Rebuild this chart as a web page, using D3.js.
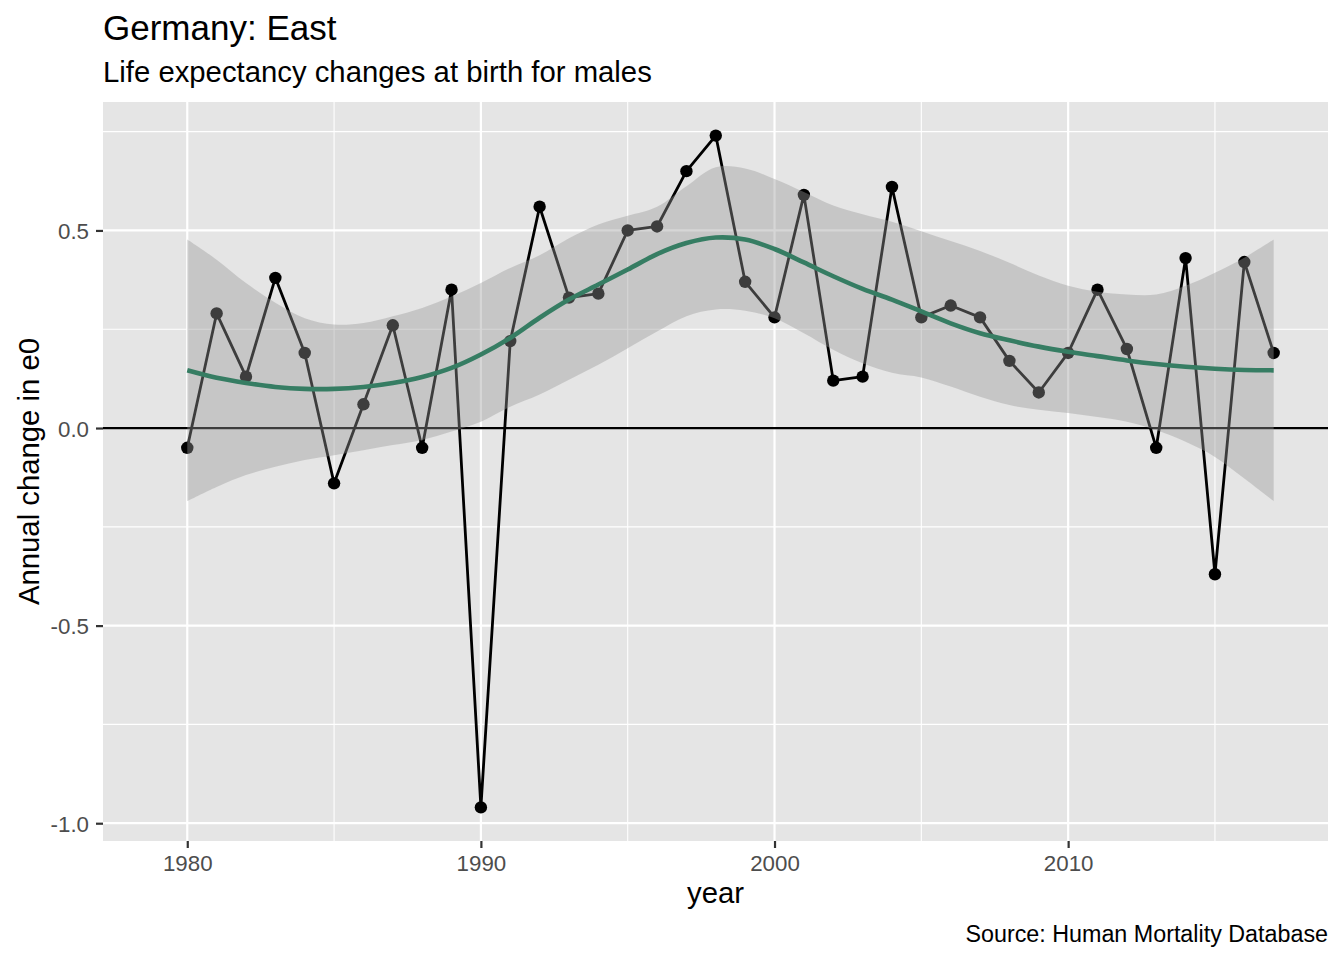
<!DOCTYPE html>
<html>
<head>
<meta charset="utf-8">
<script src="https://cdn.jsdelivr.net/npm/d3@7"></script>
<style>
  body { margin: 0; background: #fff; }
  svg { font-family: "Liberation Sans", Arial, sans-serif; }
</style>
</head>
<body>
<svg width="1344" height="960"></svg>
<script>
// annual change in e0, East Germany males
const years = d3.range(1980, 2018);
const changes = [-0.05, 0.29, 0.13, 0.38, 0.19, -0.14, 0.06, 0.26, -0.05, 0.35,
                 -0.96, 0.22, 0.56, 0.33, 0.34, 0.50, 0.51, 0.65, 0.74, 0.37,
                 0.28, 0.59, 0.12, 0.13, 0.61, 0.28, 0.31, 0.28, 0.17, 0.09,
                 0.19, 0.35, 0.20, -0.05, 0.43, -0.37, 0.42, 0.19];

// loess fit and its confidence band, read per year
const smoothFit = [0.146, 0.127, 0.114, 0.104, 0.099, 0.099, 0.104, 0.114, 0.129, 0.152,
                   0.186, 0.228, 0.279, 0.325, 0.363, 0.401, 0.440, 0.468, 0.482, 0.477,
                   0.453, 0.419, 0.384, 0.352, 0.325, 0.295, 0.265, 0.240, 0.222, 0.206,
                   0.193, 0.182, 0.171, 0.162, 0.155, 0.150, 0.147, 0.146];
const bandUpper = [0.477, 0.426, 0.367, 0.317, 0.278, 0.262, 0.266, 0.283, 0.304, 0.333,
                   0.367, 0.405, 0.437, 0.480, 0.515, 0.537, 0.560, 0.612, 0.660, 0.657,
                   0.630, 0.597, 0.563, 0.541, 0.522, 0.498, 0.473, 0.448, 0.418, 0.386,
                   0.360, 0.345, 0.338, 0.338, 0.360, 0.393, 0.431, 0.477];
const bandLower = [-0.185, -0.149, -0.119, -0.098, -0.081, -0.069, -0.056, -0.043, -0.030, -0.009,
                   0.016, 0.054, 0.085, 0.122, 0.160, 0.202, 0.244, 0.283, 0.300, 0.297,
                   0.278, 0.240, 0.198, 0.164, 0.140, 0.128, 0.105, 0.079, 0.058, 0.046,
                   0.038, 0.028, 0.016, -0.005, -0.035, -0.073, -0.128, -0.185];

const xTicks = [1980, 1990, 2000, 2010];
const xMinor = [1985, 1995, 2005, 2015];
const yTicks = [-1.0, -0.5, 0.0, 0.5];
const yMinor = [-0.75, -0.25, 0.25, 0.75];

const svg = d3.select("svg");
const panel = {left: 103, right: 1328, top: 102, bottom: 841};

const x = d3.scaleLinear().domain([1977.13, 2018.85]).range([panel.left, panel.right]);
const y = d3.scaleLinear().domain([-1.045, 0.825]).range([panel.bottom, panel.top]);

svg.append("rect")
	.attr("x", panel.left).attr("y", panel.top)
	.attr("width", panel.right - panel.left).attr("height", panel.bottom - panel.top)
	.attr("fill", "#E5E5E5");

const grid = svg.append("g");
grid.selectAll(".xminor").data(xMinor).join("line")
	.attr("x1", d => x(d)).attr("x2", d => x(d))
	.attr("y1", panel.top).attr("y2", panel.bottom)
	.attr("stroke", "#fff").attr("stroke-width", 1.1);
grid.selectAll(".yminor").data(yMinor).join("line")
	.attr("y1", d => y(d)).attr("y2", d => y(d))
	.attr("x1", panel.left).attr("x2", panel.right)
	.attr("stroke", "#fff").attr("stroke-width", 1.1);
grid.selectAll(".xmajor").data(xTicks).join("line")
	.attr("x1", d => x(d)).attr("x2", d => x(d))
	.attr("y1", panel.top).attr("y2", panel.bottom)
	.attr("stroke", "#fff").attr("stroke-width", 2.2);
grid.selectAll(".ymajor").data(yTicks).join("line")
	.attr("y1", d => y(d)).attr("y2", d => y(d))
	.attr("x1", panel.left).attr("x2", panel.right)
	.attr("stroke", "#fff").attr("stroke-width", 2.2);

// zero line
svg.append("line")
	.attr("x1", panel.left).attr("x2", panel.right)
	.attr("y1", y(0)).attr("y2", y(0))
	.attr("stroke", "#000").attr("stroke-width", 2.2);

const pts = years.map((yr, i) => ({yr, v: changes[i]}));

svg.append("path")
	.datum(pts)
	.attr("fill", "none")
	.attr("stroke", "#000")
	.attr("stroke-width", 2.8)
	.attr("stroke-linejoin", "round")
	.attr("d", d3.line().x(d => x(d.yr)).y(d => y(d.v)));

svg.selectAll(".pt").data(pts).join("circle")
	.attr("cx", d => x(d.yr)).attr("cy", d => y(d.v))
	.attr("r", 6.2).attr("fill", "#000");

const band = years.map((yr, i) => ({yr, lo: bandLower[i], hi: bandUpper[i], fit: smoothFit[i]}));

svg.append("path")
	.datum(band)
	.attr("fill", "#999999")
	.attr("fill-opacity", 0.4)
	.attr("d", d3.area().curve(d3.curveCatmullRom)
		.x(d => x(d.yr)).y0(d => y(d.lo)).y1(d => y(d.hi)));

svg.append("path")
	.datum(band)
	.attr("fill", "none")
	.attr("stroke", "#367D63")
	.attr("stroke-width", 4.6)
	.attr("d", d3.line().curve(d3.curveCatmullRom).x(d => x(d.yr)).y(d => y(d.fit)));

// axes
const fmtY = d => d3.format(".1f")(d).replace("−", "-");
const xAxis = svg.append("g")
	.attr("transform", `translate(0,${panel.bottom})`)
	.call(d3.axisBottom(x).tickValues(xTicks).tickFormat(d3.format("d")).tickSizeOuter(0).tickSize(7));
const yAxis = svg.append("g")
	.attr("transform", `translate(${panel.left},0)`)
	.call(d3.axisLeft(y).tickValues(yTicks).tickFormat(fmtY).tickSizeOuter(0).tickSize(7));

[xAxis, yAxis].forEach(ax => {
	ax.select(".domain").remove();
	ax.selectAll(".tick line").attr("stroke", "#333").attr("stroke-width", 2.2);
	ax.selectAll(".tick text").attr("fill", "#4D4D4D")
		.style("font-size", "22.3px").style("font-family", "Liberation Sans, Arial, sans-serif");
});
xAxis.selectAll(".tick text").attr("y", 30).attr("dy", 0);
yAxis.selectAll(".tick text").attr("x", -14).attr("dy", "0.36em");

svg.append("text")
	.attr("x", 103).attr("y", 40)
	.style("font-size", "35px").attr("fill", "#000")
	.text("Germany: East");
svg.append("text")
	.attr("x", 103).attr("y", 82)
	.style("font-size", "29.3px").attr("fill", "#000")
	.text("Life expectancy changes at birth for males");
svg.append("text")
	.attr("x", (panel.left + panel.right) / 2).attr("y", 903)
	.attr("text-anchor", "middle")
	.style("font-size", "29.3px").attr("fill", "#000")
	.text("year");
svg.append("text")
	.attr("transform", `translate(39,${(panel.top + panel.bottom) / 2}) rotate(-90)`)
	.attr("text-anchor", "middle")
	.style("font-size", "29.3px").attr("fill", "#000")
	.text("Annual change in e0");
svg.append("text")
	.attr("x", panel.right).attr("y", 942)
	.attr("text-anchor", "end")
	.style("font-size", "23.3px").attr("fill", "#000")
	.text("Source: Human Mortality Database");
</script>
</body>
</html>
